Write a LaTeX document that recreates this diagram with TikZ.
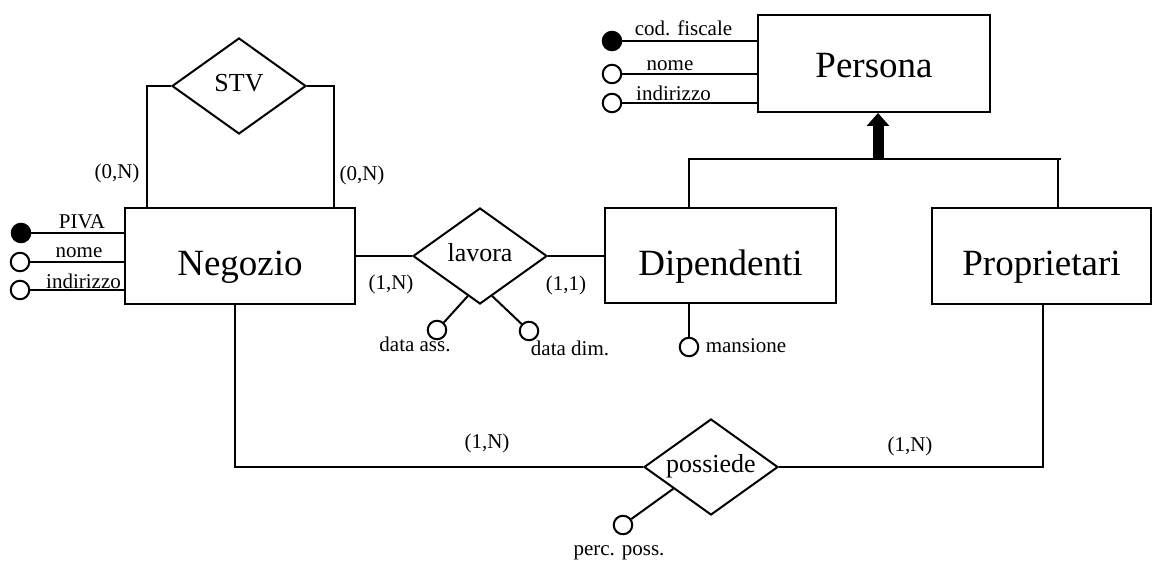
\documentclass[tikz,border=0pt]{standalone}
\usepackage{fontspec}
\setmainfont{Liberation Serif}
\usetikzlibrary{shapes.geometric,arrows.meta}
\begin{document}
\begin{tikzpicture}[x=1pt,y=-1pt,line width=2pt,
  entity/.style={draw,rectangle,inner sep=0pt,font=\fontsize{37}{40}\selectfont,text height=40pt,text depth=0pt},
  rel/.style={draw,diamond,aspect=1.4,inner sep=0pt,minimum width=134pt,minimum height=96pt,font=\fontsize{26}{30}\selectfont,text depth=7pt},
  attrK/.style={draw,circle,fill=black,minimum size=18.5pt,inner sep=0pt},
  attr/.style={draw,circle,fill=white,minimum size=18.5pt,inner sep=0pt},
  lbl/.style={font=\fontsize{21}{24}\selectfont,inner sep=0pt,anchor=base},
  isa/.style={line width=11pt,-{Triangle[length=13pt 0,width=22pt 0]}}]
\path[fill=white] (0,0) rectangle (1153,561);
\useasboundingbox (0,0) rectangle (1153,561);

% entities
\node[entity,minimum width=232pt,minimum height=97pt,text height=29pt] (persona) at (874,63.5) {Persona};
\node[entity,minimum width=230pt,minimum height=96pt] (negozio) at (240,256) {Negozio};
\node[entity,minimum width=231pt,minimum height=95pt] (dip) at (720.5,255.5) {Dipendenti};
\node[entity,minimum width=219pt,minimum height=96pt] (prop) at (1041.5,256) {Proprietari};

% relationships
\node[rel] (stv) at (239,86) {STV};
\node[rel] (lavora) at (480,256) {lavora};
\node[rel] (possiede) at (711,467) {possiede};

% Persona attributes
\node[attrK] (pcf) at (612,41) {};
\node[attr] (pnome) at (612,74) {};
\node[attr] (pind) at (612,103) {};
\draw (pcf) -- (pcf -| persona.west);
\draw (pnome) -- (pnome -| persona.west);
\draw (pind) -- (pind -| persona.west);
\node[lbl] (lpcf) at (683.5,35.5) {cod. fiscale};
\node[lbl] (lpnome) at (670,70.5) {nome};
\node[lbl] (lpind) at (673.5,100.5) {indirizzo};

% Negozio attributes
\node[attrK] (npiva) at (21,233) {};
\node[attr] (nnome) at (20,262) {};
\node[attr] (nind) at (20,290) {};
\draw (npiva) -- (npiva -| negozio.west);
\draw (nnome) -- (nnome -| negozio.west);
\draw (nind) -- (nind -| negozio.west);
\node[lbl] (lnpiva) at (82,229) {PIVA};
\node[lbl] (lnnome) at (79,258) {nome};
\node[lbl] (lnind) at (83.5,288.5) {indirizzo};

% STV
\draw (stv.west) -| ([xshift=23pt]negozio.north west);
\draw (stv.east) -| ([xshift=-22pt]negozio.north east);
\node[lbl] (c1) at (117,179) {(0,N)};
\node[lbl] (c2) at (362,181) {(0,N)};

% lavora
\draw (negozio.east) -- (lavora.west);
\draw (lavora.east) -- (lavora.east -| dip.west);
\node[lbl] (c3) at (391,289) {(1,N)};
\node[lbl] (c4) at (566,290) {(1,1)};
\node[attr] (dass) at (437,330) {};
\node[attr] (ddim) at (529,331) {};
\draw (lavora.253) -- (dass);
\draw (lavora.287) -- (ddim);
\node[lbl] (ldass) at (415,351) {data ass.};
\node[lbl] (lddim) at (570,355) {data dim.};

% Dipendenti attribute
\node[attr] (mans) at (689,347) {};
\draw (mans |- dip.south) -- (mans);
\node[lbl] (lmans) at (746,352.5) {mansione};

% generalization
\coordinate (hl) at (689,159);
\coordinate (hr) at (1061,159);
\coordinate (hj) at (878,159);
\coordinate (hp) at (1058,159);
\draw (hl |- dip.north) -- (hl) -- (hr);
\draw (hp |- prop.north) -- (hp);
\draw[isa] (hj) -- (hj |- persona.south);

% possiede
\draw ([xshift=-5.5pt]negozio.south) |- (possiede.west);
\draw (possiede.east) -| ([xshift=1.5pt]prop.south);
\node[lbl] (c5) at (487,448) {(1,N)};
\node[lbl] (c6) at (910,451) {(1,N)};
\node[attr] (perc) at (623,525) {};
\draw (possiede.210) -- (perc);
\node[lbl] (lperc) at (619,555) {perc. poss.};
\end{tikzpicture}
\end{document}
